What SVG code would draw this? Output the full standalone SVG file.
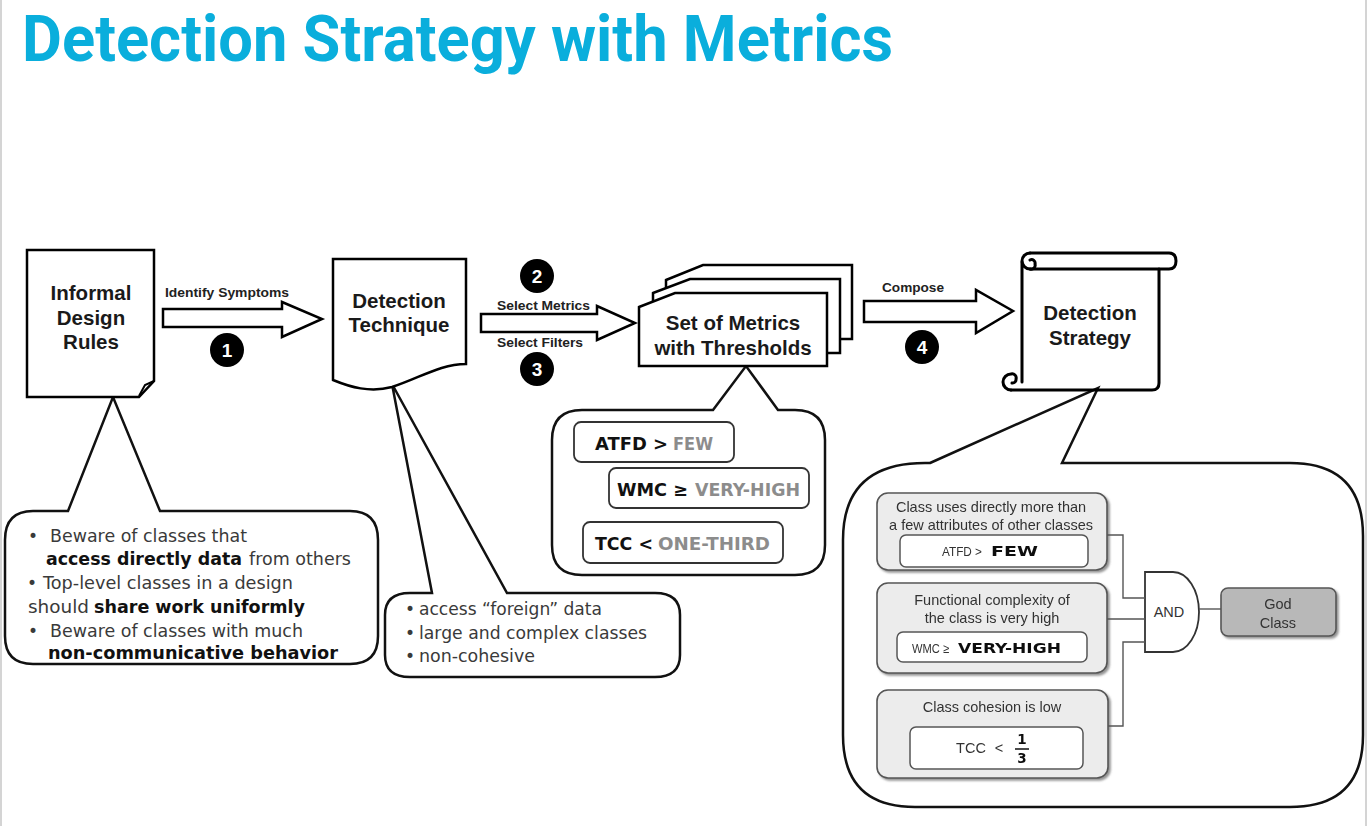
<svg xmlns="http://www.w3.org/2000/svg" width="1368" height="826" viewBox="0 0 1368 826">
  <defs>
    <style>
      .doc{fill:#fff;stroke:#000;stroke-width:2.5;stroke-linejoin:miter}
      .lbl{font-family:"Liberation Sans",Arial,sans-serif;font-weight:700;font-size:20.5px;fill:#1a1a1a;text-anchor:middle}
      .step{font-family:"Liberation Sans",Arial,sans-serif;font-weight:700;font-size:12.5px;fill:#222}
      .arrow{fill:#fff;stroke:#000;stroke-width:2.5;stroke-linejoin:miter}
      .num{fill:#000}
      .numt{font-family:"Liberation Sans",Arial,sans-serif;font-weight:700;font-size:19px;fill:#fff;text-anchor:middle}
      .bub{fill:#fff;stroke:#111;stroke-width:2.5;stroke-linejoin:miter}
      .bt{font-family:"DejaVu Sans",Verdana,sans-serif;font-size:17px;fill:#3a3a3a}
      .bb{font-weight:700;fill:#111}
      .met{font-family:"DejaVu Sans",Verdana,sans-serif;font-weight:700;font-size:18px;fill:#111}
      .grey{fill:#8c8c8c}
      .mbox{fill:#fff;stroke:#333;stroke-width:1.8}
      .cond{fill:#ececec;stroke:#555;stroke-width:1.6}
      .inner{fill:#fff;stroke:#555;stroke-width:1.5}
      .ct{font-family:"Liberation Sans",Arial,sans-serif;font-size:14.5px;fill:#333;text-anchor:middle}
      .cs{font-family:"Liberation Sans",Arial,sans-serif;font-size:13px;fill:#333}
      .heavy{font-family:"DejaVu Sans",Verdana,sans-serif;font-weight:700;font-size:13.5px;fill:#111}
      .wire{fill:none;stroke:#555;stroke-width:1.4}
      .scroll{fill:none;stroke:#000;stroke-width:3;stroke-linecap:round;stroke-linejoin:round}
    </style>
    <filter id="shade" x="-10%" y="-10%" width="125%" height="130%">
      <feDropShadow dx="2" dy="2" stdDeviation="1.2" flood-color="#666" flood-opacity="0.7"/>
    </filter>
  </defs>

  <rect x="0" y="0" width="1368" height="826" fill="#fff"/>
  <line x1="1" y1="0" x2="1" y2="826" stroke="#d4d4d4" stroke-width="2"/>
  <line x1="1366" y1="0" x2="1366" y2="826" stroke="#d4d4d4" stroke-width="2"/>

  <!-- title -->
  <text x="22" y="61" font-family="Roboto,'Liberation Sans',sans-serif" font-weight="700" font-size="64" fill="#0aaedc" textLength="871" lengthAdjust="spacingAndGlyphs">Detection Strategy with Metrics</text>

  <!-- callout bubbles -->
  <g id="rules-note">
    <path class="bub" d="M68,511 L113,397 L160,511 H350 Q378,511 378,540 V636 Q378,664 350,664 H33 Q5,664 5,636 V540 Q5,511 33,511 Z"/>
    <text class="bt" x="28" y="542">•</text>
    <text class="bt" x="50" y="542" textLength="197" lengthAdjust="spacingAndGlyphs">Beware of classes that</text>
    <text class="bt bb" x="46" y="565" textLength="196" lengthAdjust="spacingAndGlyphs">access directly data</text>
    <text class="bt" x="249" y="565" textLength="102" lengthAdjust="spacingAndGlyphs">from others</text>
    <text class="bt" x="27" y="589">•</text>
    <text class="bt" x="43" y="589" textLength="250" lengthAdjust="spacingAndGlyphs">Top-level classes in a design</text>
    <text class="bt" x="28" y="613" textLength="61" lengthAdjust="spacingAndGlyphs">should</text>
    <text class="bt bb" x="94" y="613" textLength="211" lengthAdjust="spacingAndGlyphs">share work uniformly</text>
    <text class="bt" x="28" y="637">•</text>
    <text class="bt" x="50" y="637" textLength="253" lengthAdjust="spacingAndGlyphs">Beware of classes with much</text>
    <text class="bt bb" x="48" y="659" textLength="290" lengthAdjust="spacingAndGlyphs">non-communicative behavior</text>
  </g>

  <g id="technique-note">
    <path class="bub" d="M432,593 L392,384 L507,593 H655 Q680,593 680,615 V655 Q680,677 655,677 H410 Q385,677 385,655 V615 Q385,593 410,593 Z"/>
    <text class="bt" x="405" y="615">•</text>
    <text class="bt" x="419" y="615" textLength="183" lengthAdjust="spacingAndGlyphs">access “foreign” data</text>
    <text class="bt" x="405" y="639">•</text>
    <text class="bt" x="419" y="639" textLength="228" lengthAdjust="spacingAndGlyphs">large and complex classes</text>
    <text class="bt" x="405" y="662">•</text>
    <text class="bt" x="419" y="662" textLength="116" lengthAdjust="spacingAndGlyphs">non-cohesive</text>
  </g>

  <g id="metrics-note">
    <path class="bub" d="M713,410 L746,366 L778,410 H795 Q825,410 825,440 V545 Q825,575 795,575 H582 Q552,575 552,545 V440 Q552,410 582,410 Z"/>
    <rect class="mbox" x="574" y="422" width="160" height="40" rx="7"/>
    <text class="met" x="595" y="450" textLength="73" lengthAdjust="spacingAndGlyphs">ATFD &gt;</text>
    <text class="met grey" x="673" y="450" textLength="40" lengthAdjust="spacingAndGlyphs">FEW</text>
    <rect class="mbox" x="609" y="468" width="200" height="40" rx="7"/>
    <text class="met" x="617" y="496" textLength="71" lengthAdjust="spacingAndGlyphs">WMC ≥</text>
    <text class="met grey" x="695" y="496" textLength="105" lengthAdjust="spacingAndGlyphs">VERY-HIGH</text>
    <rect class="mbox" x="583" y="522" width="200" height="41" rx="7"/>
    <text class="met" x="595" y="550" textLength="58" lengthAdjust="spacingAndGlyphs">TCC &lt;</text>
    <text class="met grey" x="658" y="550" textLength="112" lengthAdjust="spacingAndGlyphs">ONE-THIRD</text>
  </g>

  <g id="strategy-note">
    <path class="bub" d="M930,463 L1098,388 L1062,463 H1290 Q1363,463 1363,536 V735 Q1363,807 1290,807 H915 Q843,807 843,735 V540 Q843,463 925,463 Z"/>
  </g>

  <!-- nodes -->
  <g id="informal-rules">
    <path class="doc" d="M27,250 H154 V381 L139,397 H27 Z"/>
    <path fill="none" stroke="#000" stroke-width="2" d="M154,381 L145,385 L139,396"/>
    <text class="lbl" x="91" y="300">Informal</text>
    <text class="lbl" x="91" y="325">Design</text>
    <text class="lbl" x="91" y="349">Rules</text>
  </g>

  <g id="detection-technique">
    <path class="doc" d="M333,259 H466 V364 C440,364 420,378 392,387 C370,393 350,387 333,380 Z"/>
    <text class="lbl" x="399" y="308">Detection</text>
    <text class="lbl" x="399" y="332">Technique</text>
  </g>

  <g id="metric-set">
    <path class="doc" d="M666,280 L703,265 H852 V339 H666 Z"/>
    <path class="doc" d="M653,293 L690,279 H840 V353 H653 Z"/>
    <path class="doc" d="M639,307 L675,293 H827 V366 H639 Z"/>
    <text class="lbl" x="733" y="330" font-size="21">Set of Metrics</text>
    <text class="lbl" x="733" y="355" font-size="21">with Thresholds</text>
  </g>

  <g id="detection-strategy">
    <path d="M1022,262 V384 H1152 Q1159,384 1159,377 V269 Z" fill="#fff"/>
    <path class="scroll" d="M1022,262 V382"/>
    <path class="scroll" d="M1159,269 V383 Q1159,390 1152,390 H1011"/>
    <path class="scroll" d="M1030,253 H1169 Q1176,253 1176,261 Q1176,269 1169,269 H1030"/>
    <path class="scroll" d="M1030,269 A8,8 0 0 1 1030,253 M1030,269 A4,4 0 0 0 1035,264 A3.5,3.5 0 0 0 1030,260"/>
    <path class="scroll" d="M1011,374 A8,8 0 0 0 1011,390 M1011,374 A4,4 0 0 1 1016,379 A3.5,3.5 0 0 1 1012,383"/>
    <text class="lbl" x="1090" y="320">Detection</text>
    <text class="lbl" x="1090" y="345">Strategy</text>
  </g>

  <g id="cond-attributes" filter="url(#shade)">
    <rect class="cond" x="877" y="493" width="230" height="77" rx="11"/>
    <text class="ct" x="991" y="512">Class uses directly more than</text>
    <text class="ct" x="991" y="530">a few attributes of other classes</text>
    <rect class="inner" x="900" y="535" width="188" height="32" rx="6"/>
    <text class="cs" x="942" y="556" textLength="40" lengthAdjust="spacingAndGlyphs">ATFD &gt;</text>
    <text class="heavy" x="991" y="556" textLength="47" lengthAdjust="spacingAndGlyphs">FEW</text>
  </g>

  <g id="cond-complexity" filter="url(#shade)">
    <rect class="cond" x="877" y="583" width="230" height="90" rx="11"/>
    <text class="ct" x="992" y="605">Functional complexity of</text>
    <text class="ct" x="992" y="623">the class is very high</text>
    <rect class="inner" x="897" y="632" width="190" height="30" rx="6"/>
    <text class="cs" x="912" y="653" textLength="37" lengthAdjust="spacingAndGlyphs">WMC ≥</text>
    <text class="heavy" x="958" y="653" textLength="103" lengthAdjust="spacingAndGlyphs">VERY-HIGH</text>
  </g>

  <g id="cond-cohesion" filter="url(#shade)">
    <rect class="cond" x="877" y="690" width="231" height="88" rx="11"/>
    <text class="ct" x="992" y="712">Class cohesion is low</text>
    <rect class="inner" x="910" y="727" width="173" height="42" rx="6"/>
    <text class="ct" x="971" y="753">TCC</text>
    <text class="ct" x="999" y="753">&lt;</text>
    <text class="heavy" x="1022" y="744" text-anchor="middle">1</text>
    <line x1="1015" y1="749" x2="1029" y2="749" stroke="#111" stroke-width="1.5"/>
    <text class="heavy" x="1022" y="763" text-anchor="middle">3</text>
  </g>

  <g id="and-gate">
    <path d="M1145,572 H1173 A26,40 0 0 1 1173,652 H1145 Z" fill="#fff" stroke="#333" stroke-width="1.8"/>
    <text class="ct" x="1169" y="617" font-size="13">AND</text>
  </g>

  <g id="god-class" filter="url(#shade)">
    <rect x="1221" y="588" width="115" height="48" rx="7" fill="#b8b8b8" stroke="#555" stroke-width="1.6"/>
    <text class="ct" x="1278" y="609" font-size="15">God</text>
    <text class="ct" x="1278" y="628" font-size="15">Class</text>
  </g>

  <!-- connectors: step arrows and gate wiring -->
  <g id="connectors">
    <path class="arrow" d="M163,309 H282 V302 L322,319 L282,337 V327 H163 Z"/>
    <path class="arrow" d="M481,314 H597 V306 L635,323 L597,340 V332 H481 Z"/>
    <path class="arrow" d="M864,301 H976 V290 L1013,311 L976,333 V322 H864 Z"/>

    <text class="step" x="165" y="297" textLength="124" lengthAdjust="spacingAndGlyphs">Identify Symptoms</text>
    <text class="step" x="497" y="310" textLength="93" lengthAdjust="spacingAndGlyphs">Select Metrics</text>
    <text class="step" x="497" y="347" textLength="86" lengthAdjust="spacingAndGlyphs">Select Filters</text>
    <text class="step" x="882" y="292" textLength="62" lengthAdjust="spacingAndGlyphs">Compose</text>

    <circle class="num" cx="227" cy="350" r="17"/>
    <text class="numt" x="227" y="357">1</text>
    <circle class="num" cx="537" cy="276" r="17"/>
    <text class="numt" x="537" y="283">2</text>
    <circle class="num" cx="537" cy="369" r="17"/>
    <text class="numt" x="537" y="376">3</text>
    <circle class="num" cx="922" cy="347" r="17"/>
    <text class="numt" x="922" y="354">4</text>

    <path class="wire" d="M1107,535 H1123 V598 H1145"/>
    <path class="wire" d="M1107,619 H1145"/>
    <path class="wire" d="M1108,726 H1123 V642 H1145"/>
    <path class="wire" d="M1199,609 H1221"/>
  </g>
</svg>
